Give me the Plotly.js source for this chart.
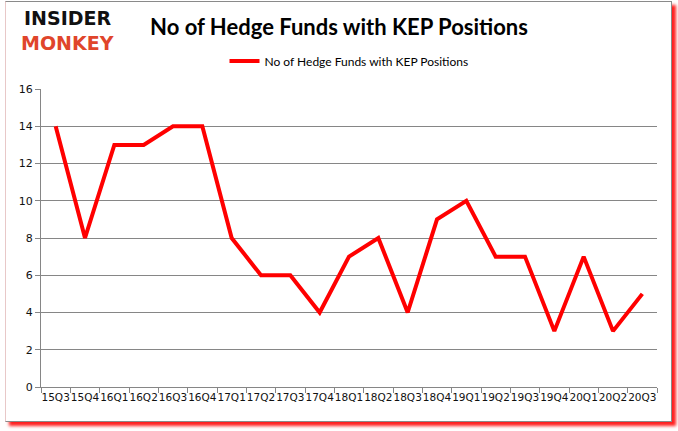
<!DOCTYPE html>
<html>
<head>
<meta charset="utf-8">
<script src="https://cdn.plot.ly/plotly-3.0.1.min.js"></script>
<style>
  html, body { margin: 0; padding: 0; background: #ffffff; }
  #wrap { position: relative; width: 678px; height: 431px; overflow: hidden; background: #fff; }
  #frame { position: absolute; left: 5px; top: 1px; width: 665px; height: 419px;
           border: 1px solid #8a8a8a; border-left: 1px solid #e8c8c8; background: #fff;
           box-shadow: 4px 4px 3px #ff2020; }
  #chart { position: absolute; left: 0; top: 0; width: 678px; height: 431px; }
</style>
</head>
<body>
<div id="wrap">
  <div id="frame"></div>
  <div id="chart"></div>
</div>
<script>
const categories = ["15Q3","15Q4","16Q1","16Q2","16Q3","16Q4","17Q1","17Q2","17Q3","17Q4",
                    "18Q1","18Q2","18Q3","18Q4","19Q1","19Q2","19Q3","19Q4","20Q1","20Q2","20Q3"];
const hedgeFunds = [14, 8, 13, 13, 14, 14, 8, 6, 6, 4, 7, 8, 4, 9, 10, 7, 7, 3, 7, 3, 5];
const seriesName = "No of Hedge Funds with KEP Positions";
const chartTitle = "No of Hedge Funds with KEP Positions";

const trace = {
  x: categories,
  y: hedgeFunds,
  type: "scatter",
  mode: "lines",
  name: seriesName,
  line: { color: "#ff0000", width: 4 }
};

const layout = {
  width: 678,
  height: 431,
  margin: { l: 41, r: 21, t: 89, b: 44 },
  paper_bgcolor: "rgba(0,0,0,0)",
  plot_bgcolor: "rgba(0,0,0,0)",
  showlegend: true,
  title: {
    text: "<b>" + chartTitle + "</b>",
    font: { family: "Lato, 'Open Sans', sans-serif", size: 22, color: "#000" },
    x: 0.5, xref: "container", xanchor: "center",
    y: 1 - 27 / 431, yref: "container", yanchor: "middle"
  },
  legend: {
    orientation: "h",
    x: 0.5, xanchor: "center",
    y: 1 + 28 / 298, yanchor: "middle",
    font: { family: "Lato, sans-serif", size: 12, color: "#000" },
    bgcolor: "rgba(0,0,0,0)"
  },
  xaxis: {
    type: "category",
    range: [-0.5, categories.length - 0.5],
    tickson: "boundaries",
    ticks: "outside",
    ticklen: 5,
    tickcolor: "#868686",
    showgrid: false,
    showline: true,
    linecolor: "#868686",
    linewidth: 1,
    tickfont: { family: "'DejaVu Sans', Verdana, sans-serif", size: 10.5, color: "#111" },
    tickangle: 0,
    fixedrange: true
  },
  yaxis: {
    range: [0, 16],
    dtick: 2,
    ticks: "outside",
    ticklen: 5,
    tickcolor: "#868686",
    showgrid: true,
    gridcolor: "#868686",
    gridwidth: 1,
    showline: true,
    linecolor: "#868686",
    zeroline: false,
    tickfont: { family: "'DejaVu Sans', Verdana, sans-serif", size: 11, color: "#111" },
    fixedrange: true
  },
  annotations: [
    {
      text: "<b>INSIDER</b>", xref: "paper", yref: "paper",
      x: (67 - 41) / 616, y: (387 - 18) / 298, xanchor: "center", yanchor: "middle",
      showarrow: false,
      font: { family: "'DejaVu Sans', sans-serif", size: 19, color: "#111" }
    },
    {
      text: "<b>MONKEY</b>", xref: "paper", yref: "paper",
      x: (67 - 41) / 616, y: (387 - 43) / 298, xanchor: "center", yanchor: "middle",
      showarrow: false,
      font: { family: "'DejaVu Sans', sans-serif", size: 19, color: "#e0452b" }
    }
  ]
};

Plotly.newPlot("chart", [trace], layout, { displayModeBar: false, staticPlot: true });
</script>
</body>
</html>
